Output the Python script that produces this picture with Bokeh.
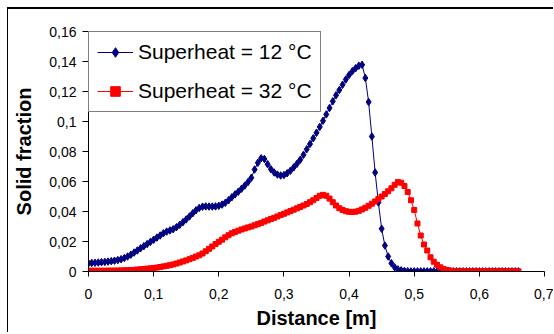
from bokeh.plotting import figure
from bokeh.models import Range1d, FixedTicker, ColumnDataSource
from bokeh.embed import file_html
from bokeh.resources import INLINE

# ---- data ----
distance = [round(i * 0.005, 3) for i in range(133)]  # 0 .. 0.66 m grid

sf_12 = [
    0.0055, 0.0057, 0.0058, 0.0060, 0.0062, 0.0064, 0.0066, 0.0069, 0.0072, 0.0076,
    0.0082, 0.0090, 0.0100, 0.0112, 0.0126, 0.0140, 0.0155, 0.0169, 0.0183, 0.0197,
    0.0212, 0.0226, 0.0240, 0.0255, 0.0266, 0.0274, 0.0282, 0.0295, 0.0311, 0.0329,
    0.0347, 0.0367, 0.0388, 0.0408, 0.0424, 0.0432, 0.0434, 0.0433, 0.0433, 0.0434,
    0.0438, 0.0446, 0.0458, 0.0475, 0.0495, 0.0514, 0.0532, 0.0552, 0.0573, 0.0597,
    0.0625, 0.0680, 0.0725, 0.0755, 0.0750, 0.0715, 0.0682, 0.0660, 0.0646, 0.0640,
    0.0643, 0.0655, 0.0672, 0.0694, 0.0718, 0.0745, 0.0778, 0.0815, 0.0850, 0.0888,
    0.0925, 0.0964, 0.1005, 0.1047, 0.1090, 0.1135, 0.1175, 0.1210, 0.1245, 0.1280,
    0.1310, 0.1335, 0.1355, 0.1372, 0.1378, 0.1290, 0.1130, 0.0900, 0.0660, 0.0460,
    0.0285, 0.0173, 0.0100, 0.0055, 0.0028, 0.0014, 0.0008, 0.0004, 0.0002, 0.0001,
    0.0001, 0.0001, 0.0001, 0.0001, 0.0001, 0.0001, 0.0001, 0.0001, 0.0001, 0.0001,
    0.0001, 0.0001, 0.0001, 0.0001, 0.0001, 0.0001, 0.0001, 0.0001, 0.0001, 0.0001,
    0.0001, 0.0001, 0.0001, 0.0001, 0.0001, 0.0001, 0.0001, 0.0001, 0.0001, 0.0001,
    0.0001, 0.0001, 0.0001,
]

sf_32 = [
    0.0005, 0.0005, 0.0005, 0.0005, 0.0005, 0.0005, 0.0006, 0.0006, 0.0006, 0.0007,
    0.0007, 0.0008, 0.0009, 0.0010, 0.0011, 0.0013, 0.0015, 0.0017, 0.0019, 0.0021,
    0.0023, 0.0026, 0.0030, 0.0034, 0.0038, 0.0042, 0.0047, 0.0053, 0.0060, 0.0067,
    0.0074, 0.0082, 0.0091, 0.0100, 0.0108, 0.0120, 0.0135, 0.0151, 0.0167, 0.0183,
    0.0198, 0.0212, 0.0228, 0.0242, 0.0255, 0.0264, 0.0272, 0.0280, 0.0287, 0.0294,
    0.0300, 0.0308, 0.0316, 0.0324, 0.0333, 0.0341, 0.0350, 0.0358, 0.0367, 0.0376,
    0.0385, 0.0394, 0.0403, 0.0412, 0.0421, 0.0430, 0.0440, 0.0450, 0.0462, 0.0475,
    0.0490, 0.0505, 0.0511, 0.0505, 0.0486, 0.0462, 0.0440, 0.0422, 0.0410, 0.0402,
    0.0398, 0.0397, 0.0399, 0.0405, 0.0414, 0.0425, 0.0438, 0.0452, 0.0467, 0.0483,
    0.0500, 0.0517, 0.0535, 0.0555, 0.0578, 0.0596, 0.0592, 0.0570, 0.0530, 0.0475,
    0.0410, 0.0320, 0.0240, 0.0180, 0.0140, 0.0095, 0.0065, 0.0045, 0.0028, 0.0017,
    0.0011, 0.0006, 0.0003, 0.0002, 0.0001, 0.0001, 0.0001, 0.0001, 0.0001, 0.0001,
    0.0001, 0.0001, 0.0001, 0.0001, 0.0001, 0.0001, 0.0001, 0.0001, 0.0001, 0.0001,
    0.0001, 0.0001, 0.0001,
]

series_labels = ["Superheat = 12 °C", "Superheat = 32 °C"]

x_ticks = [0.0, 0.1, 0.2, 0.3, 0.4, 0.5, 0.6, 0.7]
x_tick_labels = ["0", "0,1", "0,2", "0,3", "0,4", "0,5", "0,6", "0,7"]
y_ticks = [0.0, 0.02, 0.04, 0.06, 0.08, 0.1, 0.12, 0.14, 0.16]
y_tick_labels = ["0", "0,02", "0,04", "0,06", "0,08", "0,1", "0,12", "0,14", "0,16"]

# ---- figure ----
FONT = "Liberation Sans"
src = ColumnDataSource(dict(x=distance, a=sf_12, b=sf_32))

p = figure(width=546, height=325, output_backend="svg", toolbar_location=None,
           x_range=Range1d(0, 0.7), y_range=Range1d(0, 0.16),
           min_border_left=80, min_border_top=22, min_border_right=10,
           min_border_bottom=63)
p.styles = {"margin-left": "7px", "margin-top": "7px",
            "border-left": "1px solid black", "border-top": "2px solid black"}
p.outline_line_color = None
p.xgrid.grid_line_color = None
p.ygrid.grid_line_color = None
p.background_fill_color = "white"
p.border_fill_color = "white"

p.line("x", "a", source=src, color="#000080", line_width=1, legend_label=series_labels[0])
p.scatter("x", "a", source=src, marker="diamond", size=7.5, color="#000080",
          legend_label=series_labels[0])
p.line("x", "b", source=src, color="#FF0000", line_width=1, legend_label=series_labels[1])
p.scatter("x", "b", source=src, marker="square", size=5, color="#FF0000",
          legend_label=series_labels[1])

# axes
p.xaxis.ticker = FixedTicker(ticks=x_ticks)
p.xaxis.major_label_overrides = {t: l for t, l in zip(x_ticks, x_tick_labels)}
p.yaxis.ticker = FixedTicker(ticks=y_ticks)
p.yaxis.major_label_overrides = {t: l for t, l in zip(y_ticks, y_tick_labels)}

for ax in (p.xaxis[0], p.yaxis[0]):
    ax.axis_line_color = "black"
    ax.major_tick_line_color = "black"
    ax.minor_tick_line_color = None
    ax.major_tick_in = 0
    ax.major_label_text_font = FONT
    ax.major_label_text_font_size = "14px"
    ax.major_label_text_color = "black"
    ax.axis_label_text_font = FONT
    ax.axis_label_text_font_size = "20px"
    ax.axis_label_text_font_style = "bold"
    ax.axis_label_text_color = "black"

p.xaxis.axis_label = "Distance [m]"
p.yaxis.axis_label = "Solid fraction"
p.xaxis.major_tick_out = 5
p.yaxis.major_tick_out = 6
p.xaxis.major_label_standoff = 12
p.yaxis.major_label_standoff = 6
p.xaxis.axis_label_standoff = 5
p.yaxis.axis_label_standoff = 11

# legend
lg = p.legend[0]
lg.location = "top_left"
lg.margin = 0
lg.padding = 8
lg.spacing = 15
lg.glyph_width = 36
lg.glyph_height = 24
lg.label_height = 24
lg.label_standoff = 5
lg.label_text_font = FONT
lg.label_text_font_size = "21px"
lg.label_text_color = "black"
lg.border_line_color = "black"
lg.border_line_width = 1
lg.background_fill_color = "white"
lg.background_fill_alpha = 1.0

open("out.html", "w").write(file_html(p, INLINE))
